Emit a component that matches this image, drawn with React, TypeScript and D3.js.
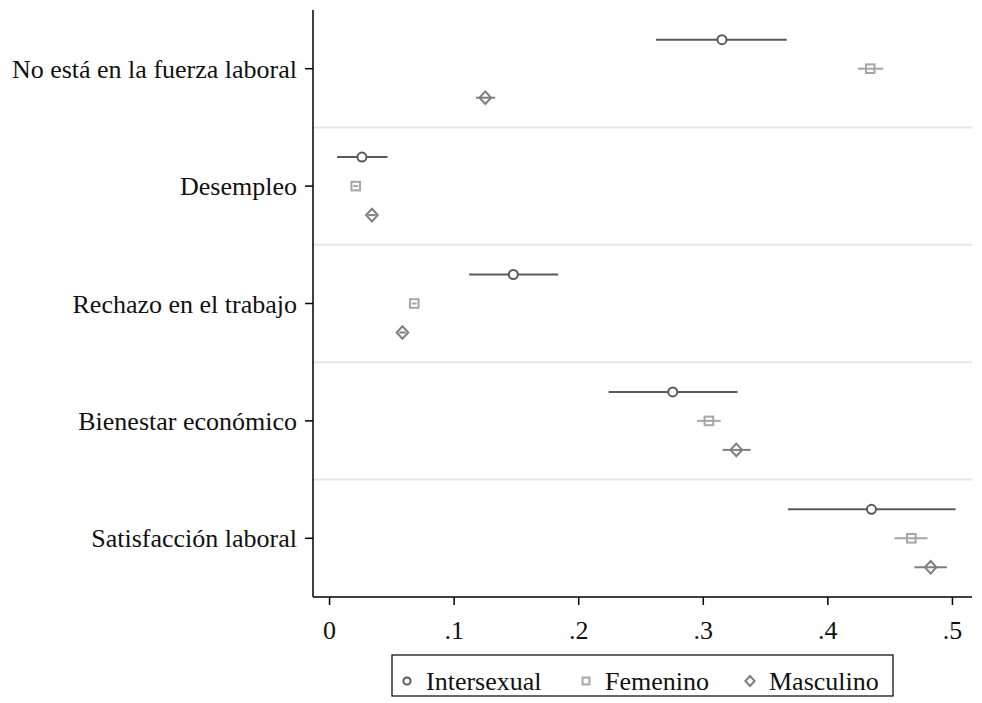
import React from "react";
import { scaleLinear, scaleBand } from "d3";

// categories (top to bottom)
const categories = [
  "No está en la fuerza laboral",
  "Desempleo",
  "Rechazo en el trabajo",
  "Bienestar económico",
  "Satisfacción laboral",
];

const seriesNames = ["Intersexual", "Femenino", "Masculino"];

// point estimates and confidence intervals, per category
const intersexual = [0.315, 0.026, 0.1475, 0.2755, 0.435];
const intersexualLo = [0.262, 0.006, 0.112, 0.224, 0.368];
const intersexualHi = [0.367, 0.0465, 0.1835, 0.3275, 0.5025];

const femenino = [0.434, 0.021, 0.068, 0.3045, 0.467];
const femeninoLo = [0.424, 0.019, 0.066, 0.295, 0.4535];
const femeninoHi = [0.4445, 0.023, 0.070, 0.314, 0.480];

const masculino = [0.125, 0.034, 0.0585, 0.3265, 0.4825];
const masculinoLo = [0.1175, 0.031, 0.056, 0.3155, 0.4695];
const masculinoHi = [0.133, 0.037, 0.061, 0.338, 0.4955];

const xTicks = [0, 0.1, 0.2, 0.3, 0.4, 0.5];
const xTickLabels = ["0", ".1", ".2", ".3", ".4", ".5"];

const W = 982;
const H = 703;
const left = 313;
const right = 972;
const top = 10;
const bottom = 597;
const font = "'Liberation Serif', serif";

const colors = ["#5a5a5a", "#a6a6a6", "#7f7f7f"];
const offsets = [-29, 0, 29];

export default function App() {
  const x = scaleLinear().domain([-0.0133, 0.5157]).range([left, right]);
  const y = scaleBand<string>().domain(categories).range([top, bottom]);
  const bw = y.bandwidth();

  const series = [
    { name: seriesNames[0], v: intersexual, lo: intersexualLo, hi: intersexualHi },
    { name: seriesNames[1], v: femenino, lo: femeninoLo, hi: femeninoHi },
    { name: seriesNames[2], v: masculino, lo: masculinoLo, hi: masculinoHi },
  ];

  const marker = (si: number, cx: number, cy: number, k = 1) => {
    const c = colors[si];
    if (si === 0) {
      return <circle cx={cx} cy={cy} r={4.5 * k} fill="white" stroke={c} strokeWidth={2} />;
    }
    if (si === 1) {
      const h = 4.3 * k;
      return (
        <rect x={cx - h} y={cy - h} width={2 * h} height={2 * h} fill="none" stroke={c} strokeWidth={2} />
      );
    }
    const dx = 5.8 * k;
    const dy = 6.3 * k;
    return (
      <path
        d={`M${cx},${cy - dy}L${cx + dx},${cy}L${cx},${cy + dy}L${cx - dx},${cy}Z`}
        fill="none"
        stroke={c}
        strokeWidth={2}
      />
    );
  };

  const legendItems = [
    { mx: 407, tx: 426 },
    { mx: 586, tx: 605 },
    { mx: 750, tx: 769 },
  ];

  const txt = { fontFamily: font, fontSize: 26, fill: "#111" };

  return (
    <svg
      width={W}
      height={H}
      style={{ position: "absolute", left: 0, top: 0, background: "white" }}
    >
      {/* separating grid lines */}
      {categories.slice(1).map((c) => (
        <line key={c} x1={left} x2={right} y1={y(c)!} y2={y(c)!} stroke="#e6e6e6" strokeWidth={2} />
      ))}

      {/* y axis */}
      <line x1={left} x2={left} y1={top} y2={bottom} stroke="black" strokeWidth={1.5} />
      {categories.map((c) => {
        const cy = y(c)! + bw / 2;
        return (
          <g key={c}>
            <line x1={left - 8} x2={left} y1={cy} y2={cy} stroke="black" strokeWidth={1.5} />
            <text x={left - 16} y={cy + 9} textAnchor="end" style={txt}>
              {c}
            </text>
          </g>
        );
      })}

      {/* x axis */}
      <line x1={left} x2={right} y1={bottom} y2={bottom} stroke="black" strokeWidth={1.5} />
      {xTicks.map((t, i) => (
        <g key={t}>
          <line x1={x(t)} x2={x(t)} y1={bottom} y2={bottom + 8} stroke="black" strokeWidth={1.5} />
          <text x={x(t)} y={bottom + 42} textAnchor="middle" style={txt}>
            {xTickLabels[i]}
          </text>
        </g>
      ))}

      {/* CI lines and markers */}
      {series.map((s, si) =>
        categories.map((c, ci) => {
          const cy = y(c)! + bw / 2 + offsets[si];
          return (
            <g key={`${si}-${ci}`}>
              <line x1={x(s.lo[ci])} x2={x(s.hi[ci])} y1={cy} y2={cy} stroke={colors[si]} strokeWidth={2} />
              {marker(si, x(s.v[ci]), cy)}
            </g>
          );
        })
      )}

      {/* legend */}
      <rect x={392} y={655} width={501} height={41} fill="white" stroke="black" strokeWidth={1.2} />
      {legendItems.map((li, i) => (
        <g key={i}>
          {marker(i, li.mx, 681, 0.8)}
          <text x={li.tx} y={690} style={txt}>
            {seriesNames[i]}
          </text>
        </g>
      ))}
    </svg>
  );
}
